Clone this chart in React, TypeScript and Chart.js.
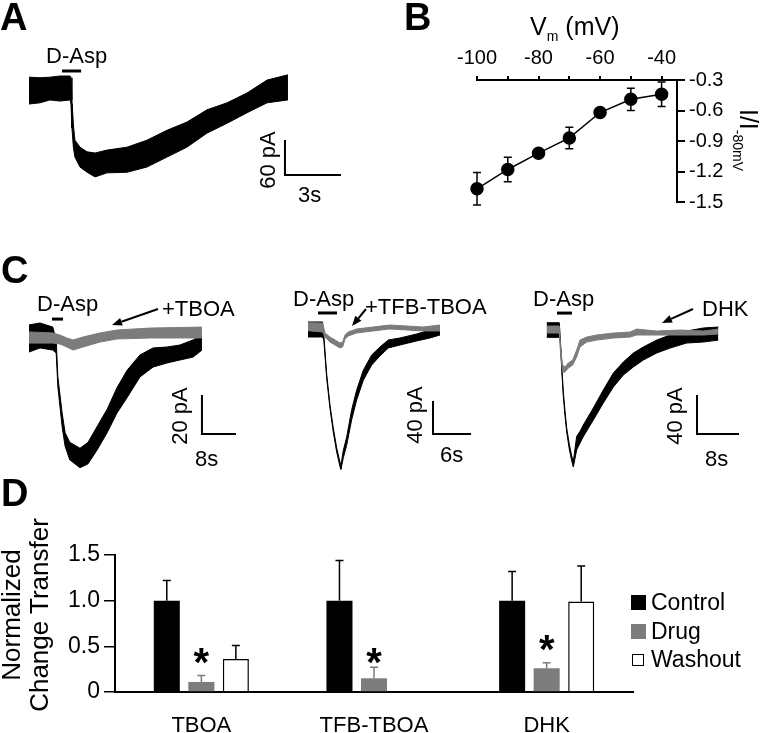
import React, { useEffect, useRef } from "react";
import { Chart, registerables } from "chart.js";

Chart.register(...registerables);

const FONT = "'Liberation Sans', Arial, Helvetica, sans-serif";
const BLACK = "#000000";
const GRAY = "#7c7c7c";

// ---------- Panel A: D-Asp evoked current (time s, current pA; envelope of the noisy trace) ----------
const A_T = [0, 0.59, 1.12, 1.66, 2.2, 2.25, 2.3, 2.38, 2.46, 2.73, 3.11, 3.54, 4.18, 5.25, 6.32, 7.39, 8.46, 9.53, 10.61, 11.68, 12.75, 13.87];
const A_UP = [22, 21, 22, 24, 24, 21, -17, -60, -86, -98, -106, -108, -103, -98, -86, -69, -55, -34, -22, -5, 17, 26];
const A_LO = [-24, -22, -17, -19, -17, -24, -65, -99, -115, -132, -141, -149, -142, -141, -132, -115, -98, -74, -57, -39, -22, -17];

// ---------- Panel B: normalized I-V ----------
const B_V = [-100, -90, -80, -70, -60, -50, -40];
const B_I = [-1.37, -1.18, -1.02, -0.87, -0.62, -0.49, -0.44];
const B_ERR = [0.16, 0.12, 0.02, 0.105, 0.03, 0.11, 0.12];

// ---------- Panel C1: +TBOA ----------
const C1_BLK_T = [0, 2.6, 5.6, 6.4, 6.8, 7.8, 8.5, 9.6, 12, 13.9, 16, 18.4, 20.7, 23.1, 26.1, 29.2, 32.5, 35.5, 38.6, 40.7];
const C1_BLK_UP = [6.2, 7.2, 5.1, -1.5, -20.5, -39, -49, -54, -57, -54, -46, -37, -26, -17, -9.2, -5.6, -5.1, -4.1, -1.5, 1.0];
const C1_BLK_LO = [-7.7, -5.6, -6.7, -8.2, -25.6, -46, -56, -63, -67, -65, -58, -49, -39, -31, -20.5, -15.4, -13.3, -11.8, -10.3, -6.7];
const C1_GRY_T = [0, 5.6, 7.3, 8.9, 10.4, 12.7, 16.7, 20.7, 28.5, 40.7];
const C1_GRY_UP = [2.6, 2.1, 1.0, -0.5, -1.5, 0, 2.1, 3.6, 4.6, 5.1];
const C1_GRY_LO = [-3.1, -3.1, -3.6, -5.1, -6.7, -5.1, -2.6, -1.0, -0.5, -0.5];

// ---------- Panel C2: +TFB-TBOA ----------
const C2_BLK_T = [0, 2.3, 2.5, 2.95, 3.47, 4.0, 4.53, 5.06, 5.21, 5.58, 6.11, 6.9, 7.69, 8.74, 10.06, 11.37, 12.69, 14.53, 17.17, 19.27, 20.85];
const C2_BLK_UP = [8.5, 8.5, -7.3, -54.5, -92, -120, -144, -162, -165, -147, -131, -98, -74, -50, -31.5, -21.8, -13.3, -10.9, -6.1, -1.2, 2.4];
const C2_BLK_LO = [-9.7, -9.7, -13.3, -59.4, -96, -125, -149, -167, -170, -156, -141, -110, -86, -62, -43.6, -32.7, -23, -19.4, -14.5, -10.9, -7.3];
const C2_GRY_T = [0, 2.3, 2.69, 3.47, 4.27, 5.06, 5.48, 5.85, 6.37, 7.69, 10.3, 12.9, 15.6, 18.2, 20.85];
const C2_GRY_UP = [7.6, 7.3, -4.8, -9.7, -13.3, -17, -15.8, -7.3, -3.6, 0, 2.4, 4.8, 3.6, 2.4, 4.8];
const C2_GRY_LO = [-2.1, -3.6, -9.7, -15.8, -19.4, -23, -21.8, -12.1, -8.5, -4.8, -2.4, 0, -1.2, -2.4, -2.4];

// ---------- Panel C3: DHK ----------
const C3_BLK_T = [0, 2.4, 2.59, 2.86, 3.16, 3.49, 3.81, 4.3, 4.76, 5.07, 5.71, 6.34, 6.97, 8.88, 10.78, 12.69, 14.59, 16.5, 18.4, 20.95, 23.49, 26.67, 29.83, 32.69];
const C3_BLK_UP = [7.5, 7.5, -8.2, -34.9, -62.6, -83, -100.5, -117, -129, -135, -109, -104, -97.4, -80, -61.5, -44.1, -32.8, -23.6, -17.4, -10.3, -5.1, -1.0, 2.1, 3.1];
const C3_BLK_LO = [-7.5, -7.5, -12.3, -40, -67.7, -88, -104.6, -122, -134, -140.5, -123, -116, -109.4, -92.3, -74.9, -58.5, -46.2, -37.9, -30.8, -23.6, -18.5, -13.3, -12.3, -10.3];
const C3_GRY_T = [0, 2.4, 2.67, 3.05, 3.49, 4.11, 4.95, 5.71, 6.34, 7.62, 9.52, 12.69, 15.87, 17.14, 20.95, 25.4, 29.83, 32.69];
const C3_GRY_UP = [4.1, 4.1, -20.5, -35.9, -37.9, -33.8, -30.8, -20.5, -10.3, -7.2, -5.1, -3.1, -2.1, 1.0, -1.0, 0, -1.0, 1.0];
const C3_GRY_LO = [-3.1, -3.1, -25.6, -43.1, -43.1, -39, -35.9, -27.7, -17.4, -12.3, -10.3, -8.2, -7.2, -5.1, -5.1, -5.1, -5.1, -4.1];

// ---------- Panel D: normalized charge transfer ----------
const D_CATS = ["TBOA", "TFB-TBOA", "DHK"];
const D_SERIES = ["Control", "Drug", "Washout"];
const D_CTRL = [1.0, 1.0, 1.0];
const D_CTRL_ERR = [0.22, 0.44, 0.32];
const D_DRUG = [0.11, 0.15, 0.26];
const D_DRUG_ERR = [0.07, 0.12, 0.06];
const D_WASH = [0.36, null, 0.99];
const D_WASH_ERR = [0.15, null, 0.39];
const D_STAR_Y = [0.43, 0.43, 0.57];

type TraceSpec = { t: number[]; up: number[]; lo: number[]; color: string; order: number };
type PanelSpec = {
  left: number; top: number; width: number; height: number;
  xMin: number; xMax: number; yMin: number; yMax: number;
  traces: TraceSpec[];
  stim: { t0: number; t1: number; y: number };
  bar: { t: number; y: number; dy: number; dt: number };
};

const PANEL_A: PanelSpec = {
  left: 0, top: 0, width: 380, height: 230,
  xMin: -1.553, xMax: 18.8, yMin: -240, yMax: 154.3,
  traces: [{ t: A_T, up: A_UP, lo: A_LO, color: BLACK, order: 2 }],
  stim: { t0: 1.77, t1: 2.79, y: 32.6 },
  bar: { t: 13.71, y: -145.7, dy: 60, dt: 3 },
};
const PANEL_C1: PanelSpec = {
  left: 0, top: 285, width: 255, height: 195,
  xMin: -6.82, xMax: 53.18, yMin: -73.3, yMax: 26.67,
  traces: [
    { t: C1_BLK_T, up: C1_BLK_UP, lo: C1_BLK_LO, color: BLACK, order: 2 },
    { t: C1_GRY_T, up: C1_GRY_UP, lo: C1_GRY_LO, color: GRAY, order: 1 },
  ],
  stim: { t0: 5.41, t1: 8.0, y: 9.2 },
  bar: { t: 40.7, y: -49.7, dy: 20, dt: 8 },
};
const PANEL_C2: PanelSpec = {
  left: 255, top: 285, width: 250, height: 195,
  xMin: -8.37, xMax: 31.12, yMin: -183, yMax: 53.3,
  traces: [
    { t: C2_BLK_T, up: C2_BLK_UP, lo: C2_BLK_LO, color: BLACK, order: 2 },
    { t: C2_GRY_T, up: C2_GRY_UP, lo: C2_GRY_LO, color: GRAY, order: 1 },
  ],
  stim: { t0: 1.58, t1: 4.58, y: 19.4 },
  bar: { t: 19.75, y: -127.3, dy: 40, dt: 6 },
};
const PANEL_C3: PanelSpec = {
  left: 505, top: 285, width: 258, height: 195,
  xMin: -7.94, xMax: 41.2, yMin: -153.8, yMax: 46.2,
  traces: [
    { t: C3_BLK_T, up: C3_BLK_UP, lo: C3_BLK_LO, color: BLACK, order: 2 },
    { t: C3_GRY_T, up: C3_GRY_UP, lo: C3_GRY_LO, color: GRAY, order: 1 },
  ],
  stim: { t0: 1.96, t1: 4.82, y: 17.4 },
  bar: { t: 28.63, y: -106.7, dy: 40, dt: 8 },
};

function TraceChart({ spec }: { spec: PanelSpec }) {
  const ref = useRef<HTMLCanvasElement>(null);
  useEffect(() => {
    const datasets: any[] = [];
    spec.traces.forEach((tr) => {
      datasets.push({
        data: tr.t.map((t, i) => ({ x: t, y: tr.up[i] })),
        borderColor: tr.color, backgroundColor: tr.color, borderWidth: 1,
        pointRadius: 0, fill: "+1", tension: 0, order: tr.order, clip: false,
      });
      datasets.push({
        data: tr.t.map((t, i) => ({ x: t, y: tr.lo[i] })),
        borderColor: tr.color, backgroundColor: tr.color, borderWidth: 1,
        pointRadius: 0, fill: false, tension: 0, order: tr.order, clip: false,
      });
    });
    const { stim, bar } = spec;
    datasets.push({
      data: [{ x: stim.t0, y: stim.y }, { x: stim.t1, y: stim.y }],
      borderColor: BLACK, borderWidth: 3, pointRadius: 0, fill: false, order: 0, clip: false,
    });
    datasets.push({
      data: [{ x: bar.t, y: bar.y + bar.dy }, { x: bar.t, y: bar.y }, { x: bar.t + bar.dt, y: bar.y }],
      borderColor: BLACK, borderWidth: 2, pointRadius: 0, fill: false, order: 0, clip: false,
      borderJoinStyle: "miter",
    });
    const chart = new Chart(ref.current!, {
      type: "line",
      data: { datasets },
      options: {
        responsive: false, animation: false, events: [],
        layout: { padding: 0 },
        plugins: { legend: { display: false }, tooltip: { enabled: false } },
        scales: {
          x: { type: "linear", display: false, min: spec.xMin, max: spec.xMax },
          y: { type: "linear", display: false, min: spec.yMin, max: spec.yMax },
        },
      },
    });
    return () => chart.destroy();
  }, [spec]);
  return (
    <canvas ref={ref} width={spec.width} height={spec.height}
      style={{ position: "absolute", left: spec.left, top: spec.top }} />
  );
}

function IVChart() {
  const ref = useRef<HTMLCanvasElement>(null);
  useEffect(() => {
    const errPlugin = {
      id: "ivErr",
      beforeDatasetsDraw(chart: any) {
        const { ctx, scales } = chart;
        ctx.save();
        ctx.strokeStyle = BLACK;
        ctx.lineWidth = 1.5;
        B_V.forEach((v, i) => {
          const px = scales.x.getPixelForValue(v);
          const y1 = scales.y.getPixelForValue(B_I[i] + B_ERR[i]);
          const y2 = scales.y.getPixelForValue(B_I[i] - B_ERR[i]);
          ctx.beginPath();
          ctx.moveTo(px, y1); ctx.lineTo(px, y2);
          ctx.moveTo(px - 4, y1); ctx.lineTo(px + 4, y1);
          ctx.moveTo(px - 4, y2); ctx.lineTo(px + 4, y2);
          ctx.stroke();
        });
        ctx.restore();
      },
    };
    const chart = new Chart(ref.current!, {
      type: "line",
      data: {
        datasets: [{
          data: B_V.map((v, i) => ({ x: v, y: B_I[i] })),
          borderColor: BLACK, borderWidth: 1.5, backgroundColor: BLACK,
          pointRadius: 6, pointBackgroundColor: BLACK, pointBorderColor: BLACK,
          fill: false, tension: 0, clip: false,
        }],
      },
      options: {
        responsive: false, animation: false, events: [],
        layout: { padding: { left: 97, top: 50, right: 26, bottom: 28 } },
        plugins: { legend: { display: false }, tooltip: { enabled: false } },
        scales: {
          x: {
            type: "linear", position: "top", min: -100, max: -35,
            afterFit: (s: any) => { s.height = 30; },
            ticks: {
              stepSize: 10, includeBounds: false, autoSkip: false, maxRotation: 0,
              callback: (v: any) => (Math.round(v) % 20 === 0 ? String(v) : ""),
              color: BLACK, font: { family: FONT, size: 20 }, padding: 6,
            },
            grid: { drawOnChartArea: false, tickLength: 4, color: BLACK, lineWidth: 2 },
            border: { color: BLACK, width: 2 },
          },
          y: {
            type: "linear", position: "right", min: -1.5, max: -0.3,
            afterFit: (s: any) => { s.width = 60; },
            ticks: {
              stepSize: 0.3, callback: (v: any) => Number(v).toFixed(1),
              color: BLACK, font: { family: FONT, size: 20 }, padding: 4,
            },
            grid: { drawOnChartArea: false, tickLength: 8, color: BLACK, lineWidth: 2 },
            border: { color: BLACK, width: 2 },
          },
        },
      },
      plugins: [errPlugin],
    });
    return () => chart.destroy();
  }, []);
  return <canvas ref={ref} width={383} height={230} style={{ position: "absolute", left: 380, top: 0 }} />;
}

function BarChart() {
  const ref = useRef<HTMLCanvasElement>(null);
  useEffect(() => {
    const errs = [D_CTRL_ERR, D_DRUG_ERR, D_WASH_ERR];
    const errColors = [BLACK, GRAY, BLACK];
    const errPlugin = {
      id: "barErr",
      afterDatasetsDraw(chart: any) {
        const { ctx, scales } = chart;
        ctx.save();
        chart.data.datasets.forEach((ds: any, di: number) => {
          const meta = chart.getDatasetMeta(di);
          ds.data.forEach((v: number | null, i: number) => {
            const e = errs[di][i];
            if (v == null || e == null) return;
            const el = meta.data[i];
            const x = el.x;
            const y0 = scales.y.getPixelForValue(v);
            const y1 = scales.y.getPixelForValue(v + e);
            ctx.strokeStyle = errColors[di];
            ctx.lineWidth = 1.5;
            ctx.beginPath();
            ctx.moveTo(x, y0); ctx.lineTo(x, y1);
            ctx.moveTo(x - 4, y1); ctx.lineTo(x + 4, y1);
            ctx.stroke();
          });
        });
        const drugMeta = chart.getDatasetMeta(1);
        ctx.fillStyle = BLACK;
        ctx.font = `bold 40px ${FONT}`;
        ctx.textAlign = "center";
        ctx.textBaseline = "alphabetic";
        D_STAR_Y.forEach((sy, i) => {
          if (sy == null) return;
          const x = drugMeta.data[i].x;
          const y = scales.y.getPixelForValue(sy);
          ctx.fillText("*", x, y + 0.58 * 40);
        });
        ctx.restore();
      },
    };
    const chart = new Chart(ref.current!, {
      type: "bar",
      data: {
        labels: D_CATS,
        datasets: [
          { label: D_SERIES[0], data: D_CTRL, backgroundColor: BLACK, borderColor: BLACK, borderWidth: 0 },
          { label: D_SERIES[1], data: D_DRUG, backgroundColor: GRAY, borderColor: GRAY, borderWidth: 0 },
          { label: D_SERIES[2], data: D_WASH as any, backgroundColor: "#ffffff", borderColor: BLACK, borderWidth: 1.5 },
        ],
      },
      options: {
        responsive: false, animation: false, events: [],
        layout: { padding: { left: 55, top: 75, right: 130, bottom: 0 } },
        datasets: { bar: { categoryPercentage: 0.6, barPercentage: 0.754 } },
        plugins: { legend: { display: false }, tooltip: { enabled: false } },
        scales: {
          x: {
            afterFit: (s: any) => { s.height = 41; },
            ticks: { color: BLACK, font: { family: FONT, size: 22 }, padding: 21 },
            grid: { display: false, drawTicks: false },
            border: { color: BLACK, width: 2 },
          },
          y: {
            min: 0, max: 1.5,
            afterFit: (s: any) => { s.width = 60; },
            ticks: {
              stepSize: 0.5, color: BLACK, font: { family: FONT, size: 23 }, padding: 4,
              callback: (v: any) => (Number(v) === 0 ? "0" : Number(v).toFixed(1)),
            },
            grid: { drawOnChartArea: false, tickLength: 11, color: BLACK, lineWidth: 1.5 },
            border: { color: BLACK, width: 2 },
          },
        },
      },
      plugins: [errPlugin],
    });
    return () => chart.destroy();
  }, []);
  return <canvas ref={ref} width={763} height={253} style={{ position: "absolute", left: 0, top: 480 }} />;
}

function Label({ x, y, size = 22, bold = false, children }: any) {
  return (
    <div style={{
      position: "absolute", left: x, top: y - 0.8465 * size, fontSize: size, lineHeight: 1,
      fontWeight: bold ? "bold" : "normal", whiteSpace: "nowrap", color: BLACK,
    }}>{children}</div>
  );
}

function RotLabel({ cx, cy, size = 22, angle = -90, lineHeight = 1, children }: any) {
  return (
    <div style={{
      position: "absolute", left: cx, top: cy, fontSize: size, lineHeight, whiteSpace: "nowrap",
      transform: `translate(-50%, -50%) rotate(${angle}deg)`, textAlign: "center", color: BLACK,
    }}>{children}</div>
  );
}

function Sub({ size, drop, children }: any) {
  return <span style={{ fontSize: size, position: "relative", top: drop }}>{children}</span>;
}

function Arrow({ x1, y1, x2, y2 }: any) {
  const dx = x2 - x1, dy = y2 - y1;
  const L = Math.hypot(dx, dy);
  const ux = dx / L, uy = dy / L;
  const hl = 10, hw = 4;
  const bx = x2 - ux * hl, by = y2 - uy * hl;
  const pts = `${x2},${y2} ${bx - uy * hw},${by + ux * hw} ${bx + uy * hw},${by - ux * hw}`;
  return (
    <g>
      <line x1={x1} y1={y1} x2={bx} y2={by} stroke={BLACK} strokeWidth={2} />
      <polygon points={pts} fill={BLACK} />
    </g>
  );
}

export default function App() {
  return (
    <div style={{ position: "absolute", left: 0, top: 0, width: 763, height: 733, background: "#fff", fontFamily: FONT, overflow: "hidden" }}>
      <TraceChart spec={PANEL_A} />
      <IVChart />
      <TraceChart spec={PANEL_C1} />
      <TraceChart spec={PANEL_C2} />
      <TraceChart spec={PANEL_C3} />
      <BarChart />

      <svg width={763} height={733} style={{ position: "absolute", left: 0, top: 0, pointerEvents: "none" }}>
        <Arrow x1={158} y1={309} x2={112} y2={325} />
        <Arrow x1={366} y1={309} x2={352} y2={326} />
        <Arrow x1={693} y1={309} x2={662} y2={323} />
      </svg>

      <Label x={0} y={30} size={38} bold>A</Label>
      <Label x={404} y={30} size={38} bold>B</Label>
      <Label x={1} y={283} size={38} bold>C</Label>
      <Label x={1} y={506} size={38} bold>D</Label>

      <Label x={46} y={64}>D-Asp</Label>
      <RotLabel cx={268} cy={160}>{`${PANEL_A.bar.dy} pA`}</RotLabel>
      <Label x={298} y={203}>{`${PANEL_A.bar.dt}s`}</Label>

      <Label x={530} y={35} size={25}>V<Sub size={14} drop={6}>m</Sub> (mV)</Label>
      <RotLabel cx={748} cy={140} size={25} angle={90}>I/I<Sub size={14} drop={7}>-80mV</Sub></RotLabel>

      <Label x={37} y={312}>D-Asp</Label>
      <Label x={162} y={317}>+TBOA</Label>
      <RotLabel cx={180} cy={416}>{`${PANEL_C1.bar.dy} pA`}</RotLabel>
      <Label x={195} y={467}>{`${PANEL_C1.bar.dt}s`}</Label>

      <Label x={293} y={307}>D-Asp</Label>
      <Label x={365} y={315}>+TFB-TBOA</Label>
      <RotLabel cx={415} cy={415}>{`${PANEL_C2.bar.dy} pA`}</RotLabel>
      <Label x={440} y={463}>{`${PANEL_C2.bar.dt}s`}</Label>

      <Label x={533} y={307}>D-Asp</Label>
      <Label x={702} y={317}>DHK</Label>
      <RotLabel cx={675} cy={416}>{`${PANEL_C3.bar.dy} pA`}</RotLabel>
      <Label x={705} y={467}>{`${PANEL_C3.bar.dt}s`}</Label>

      <RotLabel cx={25} cy={615} size={26} lineHeight="28px">
        <div>Normalized</div>
        <div>Change Transfer</div>
      </RotLabel>

      <div style={{ position: "absolute", left: 631, top: 595, width: 15, height: 15, background: BLACK }} />
      <div style={{ position: "absolute", left: 631, top: 624, width: 15, height: 15, background: GRAY }} />
      <div style={{ position: "absolute", left: 632, top: 654, width: 10, height: 10, border: `1.5px solid ${BLACK}`, background: "#fff" }} />
      <Label x={651} y={610} size={23}>{D_SERIES[0]}</Label>
      <Label x={651} y={639} size={23}>{D_SERIES[1]}</Label>
      <Label x={651} y={667} size={23}>{D_SERIES[2]}</Label>
    </div>
  );
}
